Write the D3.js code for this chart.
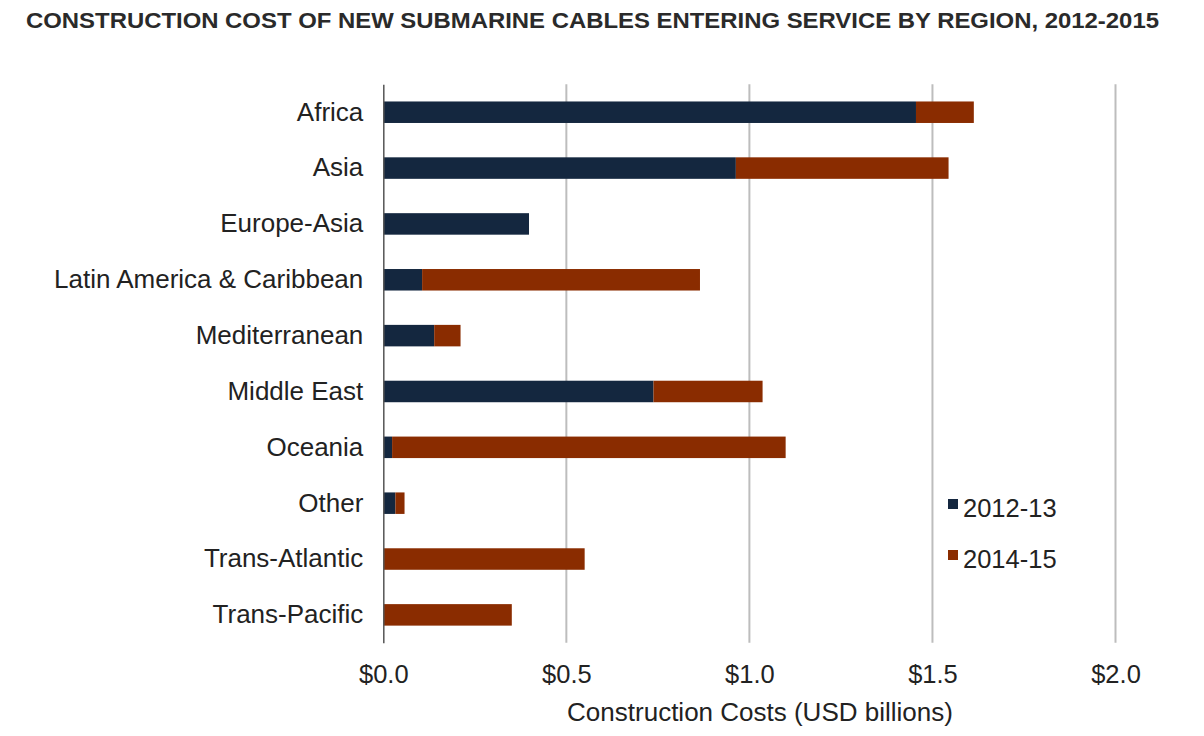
<!DOCTYPE html>
<html>
<head>
<meta charset="utf-8">
<script src="https://cdn.jsdelivr.net/npm/d3@7"></script>
<style>
  body { margin: 0; background: #fff; }
  svg { display: block; font-family: "Liberation Sans", Arial, sans-serif; }
</style>
</head>
<body>
<div id="chart"></div>
<script>
// Chart data
const regions = ["Africa", "Asia", "Europe-Asia", "Latin America & Caribbean", "Mediterranean",
  "Middle East", "Oceania", "Other", "Trans-Atlantic", "Trans-Pacific"];
const cost2012 = [1.455, 0.963, 0.398, 0.106, 0.139, 0.738, 0.024, 0.033, 0, 0];
const cost2014 = [0.158, 0.581, 0, 0.759, 0.072, 0.298, 1.075, 0.025, 0.55, 0.351];
const seriesNames = ["2012-13", "2014-15"];
const tickValues = [0, 0.5, 1.0, 1.5, 2.0];

const width = 1204, height = 736;
const colors = ["#14273f", "#8a2c00"];

const svg = d3.select("#chart")
  .append("svg")
  .attr("width", width)
  .attr("height", height);

// Title
svg.append("text")
  .attr("x", 26)
  .attr("y", 28)
  .attr("textLength", 1133)
  .attr("lengthAdjust", "spacingAndGlyphs")
  .style("font-size", "22px")
  .style("font-weight", "bold")
  .attr("fill", "#2a2a2a")
  .text("CONSTRUCTION COST OF NEW SUBMARINE CABLES ENTERING SERVICE BY REGION, 2012-2015");

const xScale = d3.scaleLinear()
  .domain([0, 2])
  .range([383.3, 1115.5]);

const yScale = d3.scaleBand()
  .domain(regions)
  .range([84.3, 642.8])
  .paddingInner(0.615)
  .paddingOuter(0.3075);

// Gridlines
svg.append("g")
  .selectAll("line")
  .data(tickValues.slice(1))
  .enter().append("line")
  .attr("x1", d => xScale(d))
  .attr("x2", d => xScale(d))
  .attr("y1", 84.3)
  .attr("y2", 642.8)
  .attr("stroke", "#bdbdbd")
  .attr("stroke-width", 2);

// Stack the two periods
const rows = regions.map((r, i) => ({ region: r, "2012-13": cost2012[i], "2014-15": cost2014[i] }));
const stacked = d3.stack().keys(seriesNames)(rows);

svg.append("g")
  .selectAll("g")
  .data(stacked)
  .enter().append("g")
  .attr("fill", (d, i) => colors[i])
  .selectAll("rect")
  .data(d => d)
  .enter().append("rect")
  .attr("x", d => xScale(d[0]))
  .attr("y", d => yScale(d.data.region))
  .attr("width", d => xScale(d[1]) - xScale(d[0]))
  .attr("height", yScale.bandwidth());

// Left axis (category labels)
const yAxis = svg.append("g")
  .attr("transform", "translate(383.3,0)")
  .call(d3.axisLeft(yScale).tickSize(0).tickPadding(20));
yAxis.select(".domain").attr("stroke", "#555").attr("stroke-width", 1.5);
yAxis.selectAll("text")
  .style("font-size", "26px")
  .attr("fill", "#222");

// Bottom axis (tick labels only)
const xAxis = svg.append("g")
  .attr("transform", "translate(0,642.8)")
  .call(d3.axisBottom(xScale).tickValues(tickValues).tickSize(0).tickPadding(22)
    .tickFormat(d => "$" + d.toFixed(1)));
xAxis.select(".domain").remove();
xAxis.selectAll("text")
  .style("font-size", "25.5px")
  .attr("fill", "#222");

// Axis title
svg.append("text")
  .attr("x", 760)
  .attr("y", 721)
  .attr("text-anchor", "middle")
  .style("font-size", "26px")
  .attr("fill", "#222")
  .text("Construction Costs (USD billions)");

// Legend
const legend = svg.append("g")
  .attr("transform", "translate(938,478)");

legend.append("rect")
  .attr("width", 140)
  .attr("height", 104)
  .attr("fill", "#fff");

legend.selectAll(".swatch")
  .data(seriesNames)
  .enter().append("rect")
  .attr("class", "swatch")
  .attr("x", 10)
  .attr("y", (d, i) => 21 + i * 51)
  .attr("width", 10)
  .attr("height", 10)
  .attr("fill", (d, i) => colors[i]);

legend.selectAll(".label")
  .data(seriesNames)
  .enter().append("text")
  .attr("class", "label")
  .attr("x", 25)
  .attr("y", (d, i) => 39 + i * 51)
  .style("font-size", "25.5px")
  .attr("fill", "#222")
  .text(d => d);
</script>
</body>
</html>
